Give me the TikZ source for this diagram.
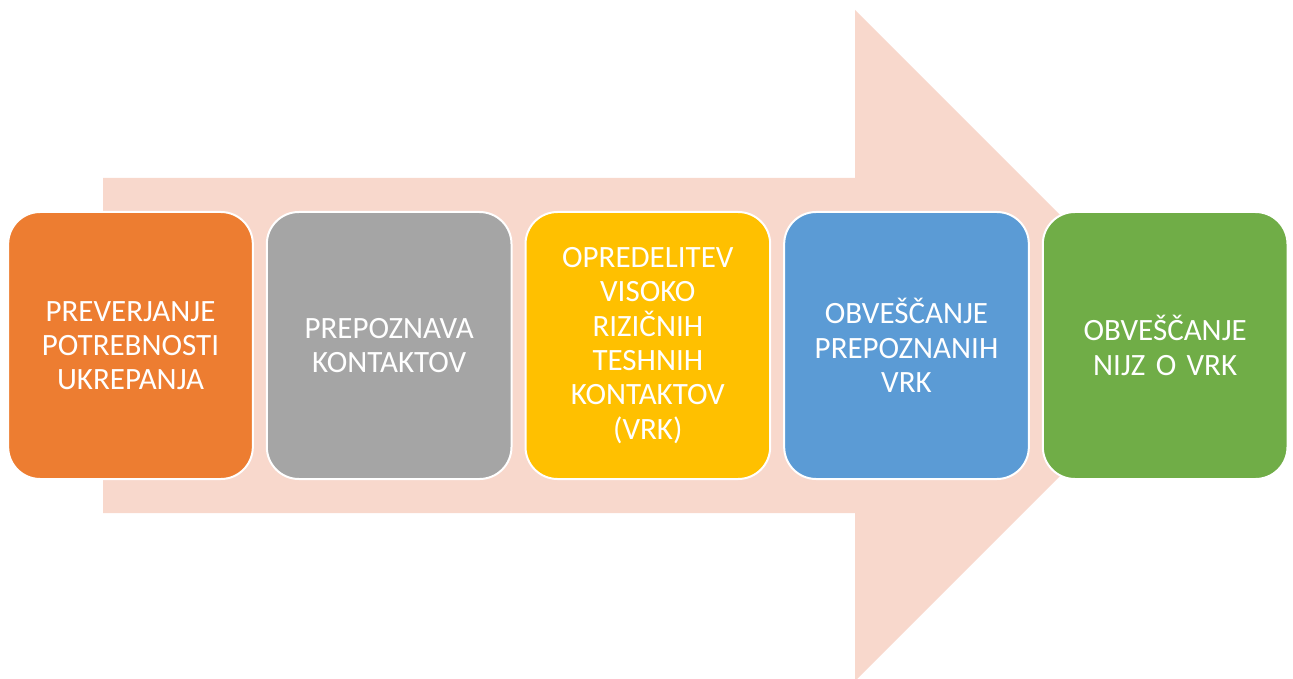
\documentclass[tikz,border=0pt]{standalone}
\usepackage{fontspec}
\setmainfont{Carlito}
\usepackage{xcolor}
\usetikzlibrary{positioning}

\definecolor{arrowpink}{HTML}{F8D8CC}
\definecolor{stageorange}{HTML}{ED7D31}
\definecolor{stagegray}{HTML}{A5A5A5}
\definecolor{stagegold}{HTML}{FFC000}
\definecolor{stageblue}{HTML}{5B9BD5}
\definecolor{stagegreen}{HTML}{70AD47}

\begin{document}
\begin{tikzpicture}[
                x = 1pt, y = -1pt, % pixel like units
                node distance = 12pt, % gap between boxes
                line width = 2pt
        ]

        \tikzstyle{stage}=[
            draw = white,
            rounded corners = 32pt,
            minimum width = 244pt,
            minimum height = 267pt,
            text width = 238pt,
            align = center,
            text = white,
            font = \fontsize{31}{34.3}\selectfont
        ]

        \useasboundingbox (0,0) rectangle (1293,679);

        % background arrow
        \fill[arrowpink] (103,178) -- (855,178) -- (855,10) -- (1190.5,345.5)
            -- (855,681) -- (855,513) -- (103,513) -- cycle;

        \node[stage, fill=stageorange] (S1) at (130.5,345.5) {PREVERJANJE\\POTREBNOSTI\\UKREPANJA};
        \node[stage, fill=stagegray] (S2) [right=of S1] {PREPOZNAVA\\KONTAKTOV};
        \node[stage, fill=stagegold] (S3) [right=of S2] {OPREDELITEV\\VISOKO\\RIZIČNIH\\TESHNIH\\KONTAKTOV\\(VRK)};
        \node[stage, fill=stageblue] (S4) [right=of S3] {OBVEŠČANJE\\PREPOZNANIH\\VRK};
        \node[stage, fill=stagegreen] (S5) [right=of S4] {OBVEŠČANJE\\NIJZ O VRK};

        \end{tikzpicture}
\end{document}
